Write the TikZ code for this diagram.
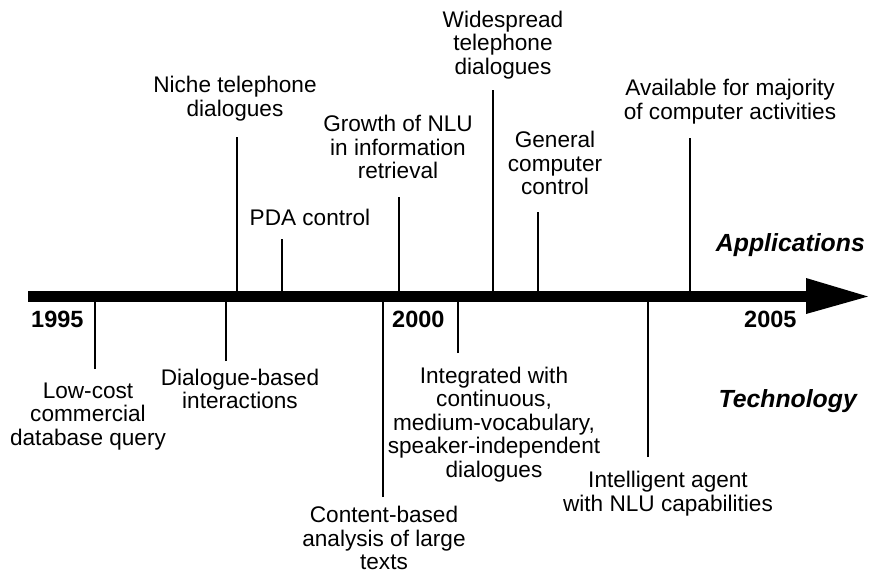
\documentclass[tikz,border=0pt]{standalone}
\usepackage{fontspec}
\setmainfont{Liberation Sans}
\usepackage{tikz}

\tikzset{
  event/.style={align=center, inner sep=0pt, font=\fontsize{22.6}{23.6}\selectfont},
  year/.style={anchor=west, inner sep=0pt, font=\fontsize{23.5}{24}\selectfont\bfseries},
  side/.style={anchor=east, inner sep=0pt, font=\fontsize{24.8}{25}\selectfont\bfseries\itshape},
  tick/.style={line width=2pt},
}

\begin{document}
\begin{tikzpicture}[x=1pt,y=-1pt]
\useasboundingbox (0,0) rectangle (869,573);

% time axis
\fill (28,291) rectangle (806,302);
\fill (806,278) -- (868,296.5) -- (806,314) -- cycle;
\coordinate (axisTop) at (0,291);
\coordinate (axisBot) at (0,302);

\node[year] (y1995) at (31,319) {1995};
\node[year] (y2000) at (392,319) {2000};
\node[year] (y2005) at (744,319) {2005};

\node[side] (applications) at (865,245) {Applications};
\node[side] (technology) at (857,401) {Technology};

% applications, above the axis
\node[event] (niche) at (235,98.5) {Niche telephone\\dialogues};
\node[event] (pda) at (310,217) {PDA control};
\node[event] (growth) at (398,147) {Growth of NLU\\in information\\retrieval};
\node[event] (widespread) at (503,45) {Widespread\\telephone\\dialogues};
\node[event] (general) at (555,163) {General\\computer\\control};
\node[event] (available) at (730,101.5) {Available for majority\\of computer activities};

\coordinate (nicheEnd) at (237,137);
\coordinate (pdaEnd) at (282,239);
\coordinate (growthEnd) at (399,197);
\coordinate (widespreadEnd) at (493,90);
\coordinate (generalEnd) at (538,212);
\coordinate (availableEnd) at (690,138);

\draw[tick] (nicheEnd) -- (nicheEnd |- axisTop);
\draw[tick] (pdaEnd) -- (pdaEnd |- axisTop);
\draw[tick] (growthEnd) -- (growthEnd |- axisTop);
\draw[tick] (widespreadEnd) -- (widespreadEnd |- axisTop);
\draw[tick] (generalEnd) -- (generalEnd |- axisTop);
\draw[tick] (availableEnd) -- (availableEnd |- axisTop);

% technology, below the axis
\node[event] (lowcost) at (88,416.5) {Low-cost\\commercial\\database query};
\node[event] (dialogue) at (240,389) {Dialogue-based\\interactions};
\node[event] (content) at (384,538) {Content-based\\analysis of large\\texts};
\node[event] (integrated) at (494,424.5) {Integrated with\\continuous,\\medium-vocabulary,\\speaker-independent\\dialogues};
\node[event] (agent) at (668,493.5) {Intelligent agent\\with NLU capabilities};

\coordinate (lowcostEnd) at (95,369);
\coordinate (dialogueEnd) at (226,361);
\coordinate (contentEnd) at (383,497);
\coordinate (integratedEnd) at (458,353);
\coordinate (agentEnd) at (648,457);

\draw[tick] (lowcostEnd) -- (lowcostEnd |- axisBot);
\draw[tick] (dialogueEnd) -- (dialogueEnd |- axisBot);
\draw[tick] (contentEnd) -- (contentEnd |- axisBot);
\draw[tick] (integratedEnd) -- (integratedEnd |- axisBot);
\draw[tick] (agentEnd) -- (agentEnd |- axisBot);

\end{tikzpicture}
\end{document}
